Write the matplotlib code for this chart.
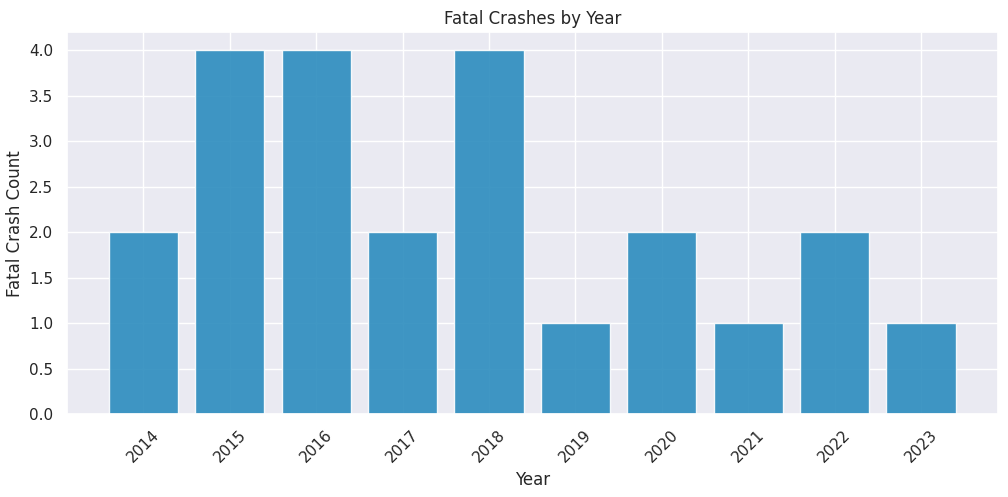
import matplotlib
matplotlib.use("Agg")
import matplotlib.pyplot as plt
import seaborn as sns

sns.set_theme(style="darkgrid")

years = ["2014", "2015", "2016", "2017", "2018", "2019", "2020", "2021", "2022", "2023"]
counts = [2, 4, 4, 2, 4, 1, 2, 1, 2, 1]

fig, ax = plt.subplots(figsize=(10.08, 4.97), dpi=100)
ax.bar(years, counts, color="#2b8cbe", alpha=0.9, edgecolor="white")
ax.set_title("Fatal Crashes by Year")
ax.set_xlabel("Year")
ax.set_ylabel("Fatal Crash Count")
plt.xticks(rotation=45)
fig.subplots_adjust(left=0.066, right=0.99, top=0.935, bottom=0.167)
fig.savefig("out.png")
